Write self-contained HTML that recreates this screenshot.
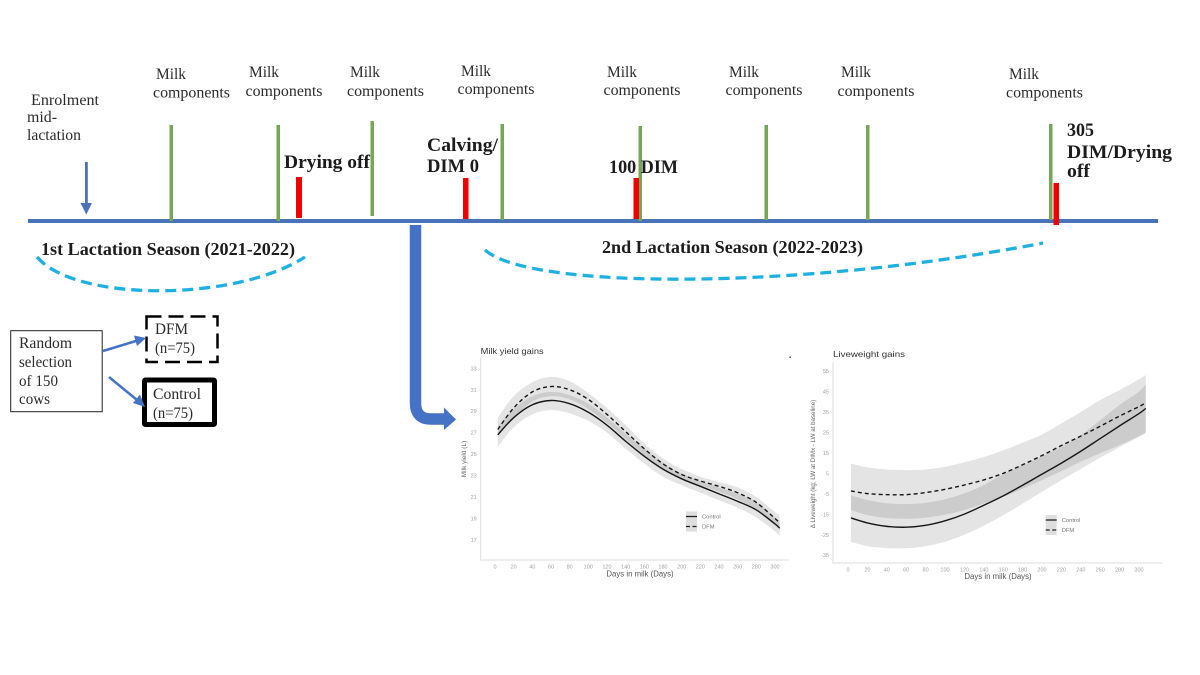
<!DOCTYPE html>
<html lang="en">
<head>
<meta charset="utf-8">
<title>Study timeline with milk yield and liveweight gains</title>
<style>
html,body{margin:0;padding:0;background:#fff;width:1200px;height:675px;overflow:hidden}
svg{display:block}
.s{font-family:"Liberation Serif",serif;font-size:15.5px;fill:#2b2b2b}
.b{font-family:"Liberation Serif",serif;font-size:18.5px;font-weight:bold;fill:#1c1c1c}
.c{font-family:"Liberation Sans",sans-serif}
</style>
</head>
<body>
<svg id="figure" xmlns="http://www.w3.org/2000/svg" width="1200" height="675" viewBox="0 0 1200 675">
<defs>
<filter id="soft" x="-5%" y="-5%" width="110%" height="110%"><feGaussianBlur stdDeviation="0.35"/></filter>
</defs>
<rect width="1200" height="675" fill="#fff"/>

<rect x="28" y="219" width="1130" height="4" fill="#4a72b8"/>

<g fill="#76a657">
<rect x="169.500" y="125" width="3.500" height="96"/>
<rect x="276.500" y="125" width="3.500" height="96"/>
<rect x="370.500" y="121" width="3.500" height="95"/>
<rect x="500.500" y="124" width="3.500" height="96"/>
<rect x="638.500" y="126" width="3.500" height="95"/>
<rect x="764.500" y="125" width="3.500" height="95"/>
<rect x="866" y="125" width="3.500" height="95"/>
<rect x="1049" y="124" width="3.500" height="96"/>
</g>
<g fill="#f00000">
<rect x="296" y="177" width="6" height="41"/>
<rect x="463" y="178" width="5.500" height="41"/>
<rect x="633.500" y="178" width="5.500" height="41"/>
<rect x="1053.500" y="183" width="5.500" height="42"/>
</g>

<g>
<rect x="85" y="162" width="2.800" height="42" fill="#4a72b8"/>
<polygon points="80.500,203 92,203 86.300,214.500" fill="#4a72b8"/>
</g>

<g>
<text class="s" x="156" y="79" textLength="30">Milk</text>
<text class="s" x="153" y="97.500" textLength="77">components</text>
<text class="s" x="249" y="77" textLength="30">Milk</text>
<text class="s" x="245.500" y="96" textLength="77">components</text>
<text class="s" x="350" y="77" textLength="30">Milk</text>
<text class="s" x="347" y="96" textLength="77">components</text>
<text class="s" x="461" y="76" textLength="30">Milk</text>
<text class="s" x="457.500" y="94" textLength="77">components</text>
<text class="s" x="607" y="77" textLength="30">Milk</text>
<text class="s" x="603.500" y="95" textLength="77">components</text>
<text class="s" x="729" y="77" textLength="30">Milk</text>
<text class="s" x="725.500" y="95" textLength="77">components</text>
<text class="s" x="841" y="77" textLength="30">Milk</text>
<text class="s" x="837.500" y="96" textLength="77">components</text>
<text class="s" x="1009" y="79" textLength="30">Milk</text>
<text class="s" x="1006" y="97.500" textLength="77">components</text>
</g>

<g>
<text class="s" x="31" y="105" textLength="68">Enrolment</text>
<text class="s" x="27" y="122" textLength="30">mid-</text>
<text class="s" x="27" y="140" textLength="54">lactation</text>
</g>

<text class="b" x="284" y="168" textLength="86">Drying off</text>
<text class="b" x="427" y="151" textLength="71">Calving/</text>
<text class="b" x="427" y="172" textLength="52">DIM 0</text>
<text class="b" x="609" y="173" textLength="69">100 DIM</text>
<g>
<text class="b" x="1067" y="136" textLength="27">305</text>
<text class="b" x="1067" y="158" textLength="105">DIM/Drying</text>
<text class="b" x="1067" y="177" textLength="23">off</text>
</g>

<text class="b" x="41" y="255" textLength="254" style="font-size:17.5px">1st Lactation Season (2021-2022)</text>
<text class="b" x="602" y="253" textLength="261" style="font-size:17.5px">2nd Lactation Season (2022-2023)</text>

<path d="M37,257 C75,302 235,302 305,257" fill="none" stroke="#1fb0e2" stroke-width="3.300" stroke-dasharray="11 6"/>
<path d="M485,250 C530,290 800,290 1043,243" fill="none" stroke="#1fb0e2" stroke-width="3.300" stroke-dasharray="11 6"/>

<g>
<path d="M415.500,225 V403 Q415.500,419 431,419 H445" fill="none" stroke="#4472c4" stroke-width="11.500"/>
<polygon points="444,407.500 456,419.500 444,430" fill="#4472c4"/>
</g>

<g>
<rect x="10.700" y="330.700" width="91.500" height="81" fill="#fff" stroke="#222" stroke-width="1"/>
<text class="s" x="19" y="348" textLength="53">Random</text>
<text class="s" x="19" y="367" textLength="53">selection</text>
<text class="s" x="19" y="386" textLength="39">of 150</text>
<text class="s" x="19" y="404" textLength="31">cows</text>
</g>
<g>
<rect x="146.500" y="316.500" width="71" height="45.500" fill="#fff" stroke="#000" stroke-width="2.500" stroke-dasharray="15 7"/>
<text class="s" x="155" y="334" textLength="33">DFM</text>
<text class="s" x="155" y="353" textLength="40">(n=75)</text>
</g>
<g>
<rect x="144.500" y="380" width="70" height="44.500" fill="#fff" stroke="#000" stroke-width="5" rx="1"/>
<text class="s" x="153" y="399" textLength="48">Control</text>
<text class="s" x="153" y="418" textLength="40">(n=75)</text>
</g>
<g fill="#4472c4" stroke="none">
<line x1="103" y1="351" x2="136" y2="341" stroke="#4472c4" stroke-width="2.500"/>
<polygon points="146,338 134,335.500 137,346"/>
<line x1="109" y1="377" x2="137" y2="400" stroke="#4472c4" stroke-width="2.500"/>
<polygon points="145,407 140,394.500 133,403"/>
</g>

<rect x="789.500" y="356.500" width="1.300" height="1.500" fill="#333"/>

<g id="milk-chart" filter="url(#soft)"></g>
<g id="weight-chart" filter="url(#soft)"></g>
</svg>

<script>
// Milk yield chart data
const milkDays = [3,20,40,60,80,100,120,140,160,180,200,220,240,260,280,300,305];
const milkControl = [26.8,28.4,29.6,30,29.7,28.9,27.7,26.2,24.8,23.6,22.7,22,21.3,20.6,19.8,18.5,18.1];
const milkDfm = [27.3,29.3,30.8,31.3,31,30.1,28.7,27.1,25.5,24.1,23.1,22.5,22,21.4,20.5,19,18.6];
const milkControlLo = [25.7,27.5,28.7,29.1,28.8,28.1,27,25.5,24.1,22.9,22.1,21.4,20.7,20,19.1,17.8,17.4];
const milkControlHi = [27.6,29.2,30.4,30.8,30.5,29.7,28.4,26.9,25.5,24.2,23.2,22.5,21.9,21.3,20.5,19.1,18.7];
const milkDfmLo = [26.8,28.3,29.9,30.4,30.1,29.2,27.9,26.4,24.8,23.6,22.7,22.1,21.5,20.8,19.8,18.3,17.9];
const milkDfmHi = [28.4,30.4,31.7,32.2,31.8,30.7,29.3,27.7,26,24.6,23.6,22.9,22.4,21.9,21,19.6,19.3];
const milkXTicks = [0,20,40,60,80,100,120,140,160,180,200,220,240,260,280,300];
const milkYTicks = [17,19,21,23,25,27,29,31,33];

// Liveweight chart data
const weightDays = [3,20,40,60,80,100,120,140,160,180,200,220,240,260,280,300,307];
const weightControl = [-16.8,-19.2,-20.9,-21.3,-20.4,-18.2,-14.9,-10.6,-6,-0.8,4.6,10,15.8,22,28.2,34.2,36.7];
const weightDfm = [-3.6,-4.9,-5.4,-5.4,-4.4,-2.8,-0.7,1.8,5,9.2,13.7,18.6,23.2,28,33,37.6,39.5];
const weightControlLo = [-28.5,-30.6,-31.5,-31.6,-30.6,-28.4,-25,-20.6,-15.5,-9.8,-4,1.7,7.2,12.6,17.8,22.8,24.5];
const weightControlHi = [-5.7,-8,-9.6,-10,-9.4,-7.6,-4.8,-0.7,4.6,9,13.3,18,23.7,31,38.4,45,48.6];
const weightDfmLo = [-12.9,-15.4,-16.8,-17.2,-16.6,-15.2,-12.9,-9.7,-6.4,-2.5,1.7,6,10.7,14.8,18.8,23.2,24.9];
const weightDfmHi = [9.8,7.9,6.9,6.6,6.9,8.2,10.4,13,16.2,20,24,29.4,35,40.8,45.7,51,53];
const weightXTicks = [0,20,40,60,80,100,120,140,160,180,200,220,240,260,280,300];
const weightYTicks = [-35,-25,-15,-5,5,15,25,35,45,55];

const SVG_NS = 'http://www.w3.org/2000/svg';

function make(parent, tag, attrs) {
  const el = document.createElementNS(SVG_NS, tag);
  for (const k in attrs) el.setAttribute(k, attrs[k]);
  parent.appendChild(el);
  return el;
}

function curve(xs, ys) {
  // Catmull-Rom spline through the points
  let d = '';
  for (let i = 0; i < xs.length; i++) {
    if (i === 0) { d += 'M' + xs[0].toFixed(2) + ',' + ys[0].toFixed(2); continue; }
    const a = Math.max(i - 2, 0), b = i - 1, c = i, e = Math.min(i + 1, xs.length - 1);
    const c1x = xs[b] + (xs[c] - xs[a]) / 6, c1y = ys[b] + (ys[c] - ys[a]) / 6;
    const c2x = xs[c] - (xs[e] - xs[b]) / 6, c2y = ys[c] - (ys[e] - ys[b]) / 6;
    d += 'C' + c1x.toFixed(2) + ',' + c1y.toFixed(2) + ' ' + c2x.toFixed(2) + ',' + c2y.toFixed(2) + ' ' + xs[c].toFixed(2) + ',' + ys[c].toFixed(2);
  }
  return d;
}

function bandPath(days, lo, hi, X, Y) {
  const xs = days.map(X);
  const top = curve(xs, hi.map(Y));
  const rx = xs.slice().reverse();
  const bottom = curve(rx, lo.slice().reverse().map(Y));
  return top + 'L' + bottom.slice(1) + 'Z';
}

function drawChart(c) {
  const g = document.getElementById(c.id);
  const X = d => c.x0 + d * c.xScale;
  const Y = v => c.y0 + (c.vTop - v) * c.yScale;

  const axes = make(g, 'path', { d: 'M' + c.left + ',' + c.top + ' V' + c.bottom + ' H' + c.right, fill: 'none', stroke: '#dcdcdc', 'stroke-width': 1 });
  
  

  const title = make(g, 'text', { x: c.left, y: c.titleY, class: 'c', 'font-size': 8.5, fill: '#333', textLength: c.titleWidth });
  title.textContent = c.title;
  
  

  c.xTicks.forEach(t => {
    const lab = make(g, 'text', { x: X(t), y: c.bottom + 8.5, class: 'c', 'font-size': 5.5, fill: '#a0a0a0', 'text-anchor': 'middle' });
    lab.textContent = t;
    
    
  });
  c.yTicks.forEach(t => {
    const lab = make(g, 'text', { x: c.left - 4, y: Y(t) + 2, class: 'c', 'font-size': 5.5, fill: '#a0a0a0', 'text-anchor': 'end' });
    lab.textContent = t;
    
    
  });

  const xt = make(g, 'text', { x: c.xTitleX, y: c.xTitleY, class: 'c', 'font-size': 7.8, fill: '#555', 'text-anchor': 'middle' });
  xt.textContent = 'Days in milk (Days)';
  
  

  const yt = make(g, 'text', { x: 0, y: 0, class: 'c', 'font-size': c.yTitleSize, fill: '#666', 'text-anchor': 'middle', transform: 'translate(' + c.yTitleX + ',' + c.yTitleY + ') rotate(-90)' });
  yt.textContent = c.yTitle;
  
  

  const bandC = make(g, 'path', { d: bandPath(c.days, c.controlLo, c.controlHi, X, Y), fill: '#000', 'fill-opacity': 0.105 });
  
  

  const bandD = make(g, 'path', { d: bandPath(c.days, c.dfmLo, c.dfmHi, X, Y), fill: '#000', 'fill-opacity': 0.105 });
  
  

  const xs = c.days.map(X);
  const lineC = make(g, 'path', { d: curve(xs, c.control.map(Y)), fill: 'none', stroke: '#151515', 'stroke-width': 1.4 });
  
  

  const lineD = make(g, 'path', { d: curve(xs, c.dfm.map(Y)), fill: 'none', stroke: '#151515', 'stroke-width': 1.4, 'stroke-dasharray': '4 3' });
  
  

  const swatchBg = make(g, 'rect', { x: c.legX, y: c.legY - 5, width: 11, height: 20, fill: '#dedede' });
  
  

  const s1 = make(g, 'line', { x1: c.legX, x2: c.legX + 11, y1: c.legY, y2: c.legY, stroke: '#222', 'stroke-width': 1.3 });
  
  

  const s2 = make(g, 'line', { x1: c.legX, x2: c.legX + 11, y1: c.legY + 10, y2: c.legY + 10, stroke: '#222', 'stroke-width': 1.3, 'stroke-dasharray': '4 2.500' });
  
  

  const l1 = make(g, 'text', { x: c.legX + 16, y: c.legY + 2, class: 'c', 'font-size': 5.8, fill: '#777' });
  l1.textContent = 'Control';
  
  

  const l2 = make(g, 'text', { x: c.legX + 16, y: c.legY + 12, class: 'c', 'font-size': 5.8, fill: '#777' });
  l2.textContent = 'DFM';
  
  
}

drawChart({
  id: 'milk-chart', title: 'Milk yield gains', titleY: 354, titleWidth: 63,
  left: 480.7, right: 789, top: 358, bottom: 560,
  x0: 495, xScale: 0.9333, y0: 368.3, vTop: 33, yScale: 10.73,
  days: milkDays, control: milkControl, dfm: milkDfm,
  controlLo: milkControlLo, controlHi: milkControlHi, dfmLo: milkDfmLo, dfmHi: milkDfmHi,
  xTicks: milkXTicks, yTicks: milkYTicks,
  xTitleX: 640, xTitleY: 576.5, yTitle: 'Milk yield (L)', yTitleX: 466, yTitleY: 459, yTitleSize: 6.5,
  legX: 686, legY: 516.5
});

drawChart({
  id: 'weight-chart', title: 'Liveweight gains', titleY: 357, titleWidth: 72,
  left: 833, right: 1162, top: 362, bottom: 563,
  x0: 848, xScale: 0.97, y0: 371, vTop: 55, yScale: 2.047,
  days: weightDays, control: weightControl, dfm: weightDfm,
  controlLo: weightControlLo, controlHi: weightControlHi, dfmLo: weightDfmLo, dfmHi: weightDfmHi,
  xTicks: weightXTicks, yTicks: weightYTicks,
  xTitleX: 998, xTitleY: 579, yTitle: 'Δ Liveweight (kg; LW at DIMx - LW at baseline)', yTitleX: 815, yTitleY: 464, yTitleSize: 6.2,
  legX: 1045.7, legY: 520
});

document.querySelectorAll('text[textLength]').forEach(t => t.setAttribute('lengthAdjust', 'spacingAndGlyphs'));
</script>
</body>
</html>
